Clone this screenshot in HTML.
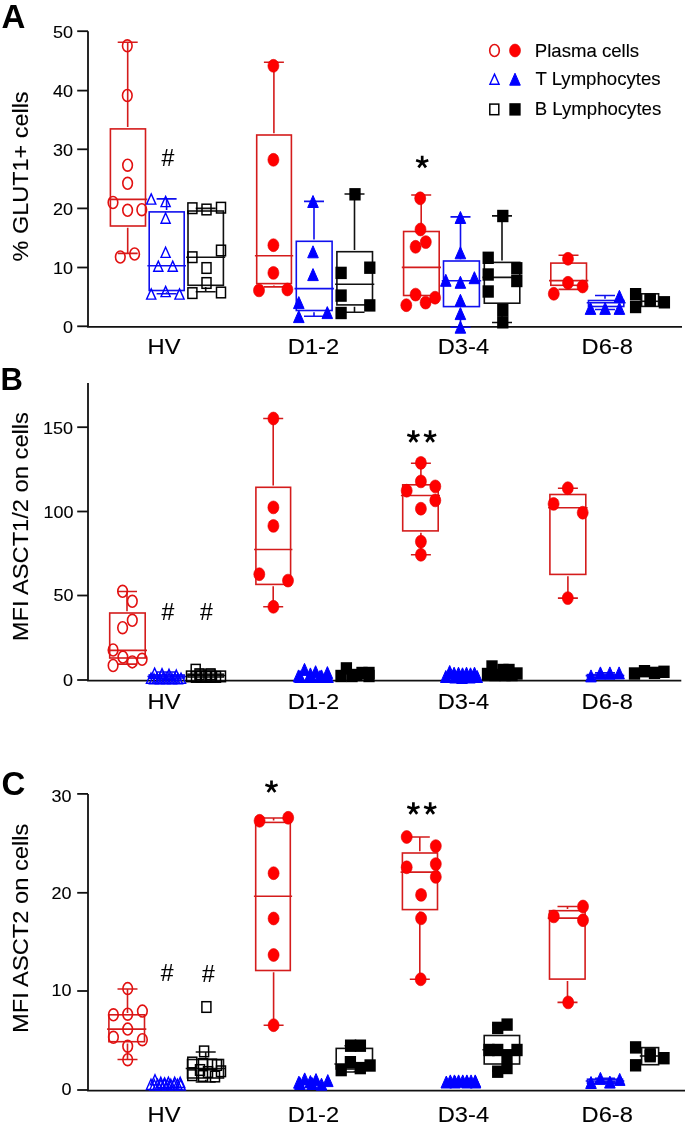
<!DOCTYPE html>
<html><head><meta charset="utf-8"><style>
html,body{margin:0;padding:0;background:#fff;}
body{width:685px;height:1129px;overflow:hidden;}
svg{display:block;will-change:transform;}
text{font-family:"Liberation Sans",sans-serif;fill:#000;stroke:#000;stroke-width:0.12px;}
.pl{stroke-width:0;}
.tk{font-size:18px;text-anchor:end;}
.cat{font-size:23.7px;text-anchor:middle;}
.yl{font-size:23.7px;text-anchor:middle;}
.pl{font-size:33px;font-weight:bold;}
.lg{font-size:18.6px;}
.hs{font-size:23px;text-anchor:middle;}
</style></head><body>
<svg width="685" height="1129" viewBox="0 0 685 1129">
<rect width="685" height="1129" fill="#fff"/>
<text class="pl" x="1.5" y="27.7">A</text>
<g stroke="#111" stroke-width="1.8" fill="none"><path d="M88 31.2V326.90000000000003M87.1 326.90000000000003H682"/>
<path d="M77.2 31.2H88"/>
<path d="M77.2 90.6H88"/>
<path d="M77.2 149.3H88"/>
<path d="M77.2 208.4H88"/>
<path d="M77.2 267.5H88"/>
<path d="M77.2 326.3H88"/>
</g>
<text class="tk" transform="translate(73.0,38.05) scale(1,0.95)">50</text>
<text class="tk" transform="translate(73.0,97.45) scale(1,0.95)">40</text>
<text class="tk" transform="translate(73.0,156.15) scale(1,0.95)">30</text>
<text class="tk" transform="translate(73.0,215.25) scale(1,0.95)">20</text>
<text class="tk" transform="translate(73.0,274.35) scale(1,0.95)">10</text>
<text class="tk" transform="translate(73.0,333.15) scale(1,0.95)">0</text>
<text class="yl" style="font-size:23.45px" transform="translate(28,176.4) rotate(-90) scale(1,0.96)">% GLUT1+ cells</text>
<text class="cat" transform="translate(164,354.2) scale(1,0.95)">HV</text>
<text class="cat" transform="translate(313.5,354.2) scale(1,0.95)">D1-2</text>
<text class="cat" transform="translate(463.4,354.2) scale(1,0.95)">D3-4</text>
<text class="cat" transform="translate(607.2,354.2) scale(1,0.95)">D6-8</text>
<ellipse cx="494.5" cy="50.5" rx="4.8" ry="5.95" fill="none" stroke="#e21010" stroke-width="1.6"/>
<ellipse cx="515" cy="50.5" rx="5.5" ry="6.45" fill="#ff0000" stroke="#e00000" stroke-width="0.6"/>
<path d="M494.50 74.10L499.10 84.30L489.90 84.30Z" fill="none" stroke="#0000ff" stroke-width="1.4" stroke-linejoin="miter"/>
<path d="M515.00 73.20L520.30 85.20L509.70 85.20Z" fill="#0000ff" stroke="#0000ff" stroke-width="1" stroke-linejoin="round"/>
<rect x="489.80" y="104.10" width="9.0" height="10.6" fill="none" stroke="#000000" stroke-width="1.5"/>
<rect x="509.35" y="103.20" width="11.3" height="12.4" fill="#000000"/>
<text class="lg" x="534.8" y="57.4">Plasma cells</text>
<text class="lg" x="535.5" y="84.6">T Lymphocytes</text>
<text class="lg" x="534.8" y="114.7">B Lymphocytes</text>
<g stroke="#d41c1c" stroke-width="1.6" fill="none">
<rect x="110.4" y="128.9" width="35.10" height="97.10"/>
<path d="M108.60 199.4H147.30M127.7 42.2V127.10M127.7 227.80V253.4M117.70 42.2H137.70M117.70 253.4H137.70"/>
</g>
<ellipse cx="127.3" cy="45.8" rx="4.8" ry="5.95" fill="none" stroke="#e21010" stroke-width="1.6"/>
<ellipse cx="127.3" cy="95.5" rx="4.8" ry="5.95" fill="none" stroke="#e21010" stroke-width="1.6"/>
<ellipse cx="127.6" cy="165.2" rx="4.8" ry="5.95" fill="none" stroke="#e21010" stroke-width="1.6"/>
<ellipse cx="127.6" cy="183.3" rx="4.8" ry="5.95" fill="none" stroke="#e21010" stroke-width="1.6"/>
<ellipse cx="113" cy="202.5" rx="4.8" ry="5.95" fill="none" stroke="#e21010" stroke-width="1.6"/>
<ellipse cx="127.6" cy="210.3" rx="4.8" ry="5.95" fill="none" stroke="#e21010" stroke-width="1.6"/>
<ellipse cx="141.8" cy="209.7" rx="4.8" ry="5.95" fill="none" stroke="#e21010" stroke-width="1.6"/>
<ellipse cx="120.3" cy="257" rx="4.8" ry="5.95" fill="none" stroke="#e21010" stroke-width="1.6"/>
<ellipse cx="134.6" cy="254" rx="4.8" ry="5.95" fill="none" stroke="#e21010" stroke-width="1.6"/>
<g stroke="#1010ee" stroke-width="1.6" fill="none">
<rect x="149.2" y="211.9" width="35.00" height="78.60"/>
<path d="M147.40 265.8H186.00M166.6 198.9V210.10M166.6 292.30V293.8M156.60 198.9H176.60M156.60 293.8H176.60"/>
</g>
<path d="M151.20 193.90L155.80 204.10L146.60 204.10Z" fill="none" stroke="#0000ff" stroke-width="1.4" stroke-linejoin="miter"/>
<path d="M165.60 196.40L170.20 206.60L161.00 206.60Z" fill="none" stroke="#0000ff" stroke-width="1.4" stroke-linejoin="miter"/>
<path d="M165.60 213.00L170.20 223.20L161.00 223.20Z" fill="none" stroke="#0000ff" stroke-width="1.4" stroke-linejoin="miter"/>
<path d="M165.60 247.20L170.20 257.40L161.00 257.40Z" fill="none" stroke="#0000ff" stroke-width="1.4" stroke-linejoin="miter"/>
<path d="M158.30 261.10L162.90 271.30L153.70 271.30Z" fill="none" stroke="#0000ff" stroke-width="1.4" stroke-linejoin="miter"/>
<path d="M172.70 261.10L177.30 271.30L168.10 271.30Z" fill="none" stroke="#0000ff" stroke-width="1.4" stroke-linejoin="miter"/>
<path d="M151.20 288.90L155.80 299.10L146.60 299.10Z" fill="none" stroke="#0000ff" stroke-width="1.4" stroke-linejoin="miter"/>
<path d="M165.60 286.40L170.20 296.60L161.00 296.60Z" fill="none" stroke="#0000ff" stroke-width="1.4" stroke-linejoin="miter"/>
<path d="M179.50 288.90L184.10 299.10L174.90 299.10Z" fill="none" stroke="#0000ff" stroke-width="1.4" stroke-linejoin="miter"/>
<g stroke="#111111" stroke-width="1.6" fill="none">
<rect x="188" y="211" width="35.40" height="74.30"/>
<path d="M186.20 257.3H225.20M205.7 208.4V209.20M205.7 287.10V291.8M195.70 208.4H215.70M195.70 291.8H215.70"/>
</g>
<rect x="187.90" y="202.90" width="9.0" height="10.6" fill="none" stroke="#000000" stroke-width="1.5"/>
<rect x="202.00" y="204.20" width="9.0" height="10.6" fill="none" stroke="#000000" stroke-width="1.5"/>
<rect x="216.50" y="202.40" width="9.0" height="10.6" fill="none" stroke="#000000" stroke-width="1.5"/>
<rect x="216.50" y="245.20" width="9.0" height="10.6" fill="none" stroke="#000000" stroke-width="1.5"/>
<rect x="187.90" y="251.90" width="9.0" height="10.6" fill="none" stroke="#000000" stroke-width="1.5"/>
<rect x="202.00" y="262.70" width="9.0" height="10.6" fill="none" stroke="#000000" stroke-width="1.5"/>
<rect x="202.00" y="277.70" width="9.0" height="10.6" fill="none" stroke="#000000" stroke-width="1.5"/>
<rect x="187.90" y="287.80" width="9.0" height="10.6" fill="none" stroke="#000000" stroke-width="1.5"/>
<rect x="216.50" y="287.20" width="9.0" height="10.6" fill="none" stroke="#000000" stroke-width="1.5"/>
<text class="hs" x="168" y="166.3">#</text>
<g stroke="#d41c1c" stroke-width="1.6" fill="none">
<rect x="256.7" y="135" width="34.70" height="148.60"/>
<path d="M254.90 255.7H293.20M273.9 62.3V133.20M273.9 285.40V286.9M263.90 62.3H283.90M263.90 286.9H283.90"/>
</g>
<ellipse cx="273.4" cy="65.8" rx="5.5" ry="6.45" fill="#ff0000" stroke="#e00000" stroke-width="0.6"/>
<ellipse cx="273.4" cy="159.8" rx="5.5" ry="6.45" fill="#ff0000" stroke="#e00000" stroke-width="0.6"/>
<ellipse cx="273.4" cy="245.2" rx="5.5" ry="6.45" fill="#ff0000" stroke="#e00000" stroke-width="0.6"/>
<ellipse cx="273.4" cy="272.9" rx="5.5" ry="6.45" fill="#ff0000" stroke="#e00000" stroke-width="0.6"/>
<ellipse cx="259" cy="290.4" rx="5.5" ry="6.45" fill="#ff0000" stroke="#e00000" stroke-width="0.6"/>
<ellipse cx="287.4" cy="289.5" rx="5.5" ry="6.45" fill="#ff0000" stroke="#e00000" stroke-width="0.6"/>
<g stroke="#1010ee" stroke-width="1.6" fill="none">
<rect x="296.3" y="241.3" width="35.80" height="69.20"/>
<path d="M294.50 288.6H333.90M314 201.4V239.50M314 312.30V316.3M304.00 201.4H324.00M304.00 316.3H324.00"/>
</g>
<path d="M313.00 195.50L318.30 207.50L307.70 207.50Z" fill="#0000ff" stroke="#0000ff" stroke-width="1" stroke-linejoin="round"/>
<path d="M313.00 245.80L318.30 257.80L307.70 257.80Z" fill="#0000ff" stroke="#0000ff" stroke-width="1" stroke-linejoin="round"/>
<path d="M313.00 268.60L318.30 280.60L307.70 280.60Z" fill="#0000ff" stroke="#0000ff" stroke-width="1" stroke-linejoin="round"/>
<path d="M298.80 296.60L304.10 308.60L293.50 308.60Z" fill="#0000ff" stroke="#0000ff" stroke-width="1" stroke-linejoin="round"/>
<path d="M298.80 310.60L304.10 322.60L293.50 322.60Z" fill="#0000ff" stroke="#0000ff" stroke-width="1" stroke-linejoin="round"/>
<path d="M327.30 306.60L332.60 318.60L322.00 318.60Z" fill="#0000ff" stroke="#0000ff" stroke-width="1" stroke-linejoin="round"/>
<g stroke="#111111" stroke-width="1.6" fill="none">
<rect x="336.9" y="251.7" width="35.60" height="53.20"/>
<path d="M335.10 284.3H374.30M354.5 194V249.90M354.5 306.70V312.2M344.50 194H364.50M344.50 312.2H364.50"/>
</g>
<rect x="349.35" y="188.10" width="11.3" height="12.4" fill="#000000"/>
<rect x="335.45" y="266.70" width="11.3" height="12.4" fill="#000000"/>
<rect x="364.15" y="261.50" width="11.3" height="12.4" fill="#000000"/>
<rect x="335.45" y="289.40" width="11.3" height="12.4" fill="#000000"/>
<rect x="364.15" y="299.20" width="11.3" height="12.4" fill="#000000"/>
<rect x="335.45" y="306.80" width="11.3" height="12.4" fill="#000000"/>
<path d="M422.20 162.20L422.20 155.80M422.20 162.20L428.29 160.22M422.20 162.20L425.96 167.38M422.20 162.20L418.44 167.38M422.20 162.20L416.11 160.22" stroke="#000" stroke-width="2.7" fill="none"/>
<g stroke="#d41c1c" stroke-width="1.6" fill="none">
<rect x="403.6" y="231.5" width="35.60" height="64.00"/>
<path d="M401.80 267.4H441.00M421.2 195V229.70M411.20 195H431.20"/>
</g>
<ellipse cx="420.2" cy="198.3" rx="5.5" ry="6.45" fill="#ff0000" stroke="#e00000" stroke-width="0.6"/>
<ellipse cx="420.5" cy="229.5" rx="5.5" ry="6.45" fill="#ff0000" stroke="#e00000" stroke-width="0.6"/>
<ellipse cx="425.8" cy="242.1" rx="5.5" ry="6.45" fill="#ff0000" stroke="#e00000" stroke-width="0.6"/>
<ellipse cx="415.6" cy="246.8" rx="5.5" ry="6.45" fill="#ff0000" stroke="#e00000" stroke-width="0.6"/>
<ellipse cx="415.6" cy="294.6" rx="5.5" ry="6.45" fill="#ff0000" stroke="#e00000" stroke-width="0.6"/>
<ellipse cx="406.3" cy="305.2" rx="5.5" ry="6.45" fill="#ff0000" stroke="#e00000" stroke-width="0.6"/>
<ellipse cx="425.6" cy="302.6" rx="5.5" ry="6.45" fill="#ff0000" stroke="#e00000" stroke-width="0.6"/>
<ellipse cx="435.1" cy="297.7" rx="5.5" ry="6.45" fill="#ff0000" stroke="#e00000" stroke-width="0.6"/>
<g stroke="#1010ee" stroke-width="1.6" fill="none">
<rect x="443.5" y="261" width="35.90" height="45.60"/>
<path d="M441.70 280.7H481.20M460.5 216.9V259.20M460.5 308.40V327.2M450.50 216.9H470.50M450.50 327.2H470.50"/>
</g>
<path d="M460.40 211.50L465.70 223.50L455.10 223.50Z" fill="#0000ff" stroke="#0000ff" stroke-width="1" stroke-linejoin="round"/>
<path d="M460.40 246.80L465.70 258.80L455.10 258.80Z" fill="#0000ff" stroke="#0000ff" stroke-width="1" stroke-linejoin="round"/>
<path d="M445.80 274.30L451.10 286.30L440.50 286.30Z" fill="#0000ff" stroke="#0000ff" stroke-width="1" stroke-linejoin="round"/>
<path d="M460.40 276.30L465.70 288.30L455.10 288.30Z" fill="#0000ff" stroke="#0000ff" stroke-width="1" stroke-linejoin="round"/>
<path d="M474.40 271.70L479.70 283.70L469.10 283.70Z" fill="#0000ff" stroke="#0000ff" stroke-width="1" stroke-linejoin="round"/>
<path d="M460.40 294.30L465.70 306.30L455.10 306.30Z" fill="#0000ff" stroke="#0000ff" stroke-width="1" stroke-linejoin="round"/>
<path d="M460.40 307.60L465.70 319.60L455.10 319.60Z" fill="#0000ff" stroke="#0000ff" stroke-width="1" stroke-linejoin="round"/>
<path d="M460.40 321.20L465.70 333.20L455.10 333.20Z" fill="#0000ff" stroke="#0000ff" stroke-width="1" stroke-linejoin="round"/>
<g stroke="#111111" stroke-width="1.6" fill="none">
<rect x="484.3" y="262.4" width="35.50" height="40.80"/>
<path d="M482.50 277.4H521.60M502 215.9V260.60M502 305.00V322.5M492.00 215.9H512.00M492.00 322.5H512.00"/>
</g>
<rect x="497.15" y="209.80" width="11.3" height="12.4" fill="#000000"/>
<rect x="482.55" y="251.60" width="11.3" height="12.4" fill="#000000"/>
<rect x="482.55" y="268.30" width="11.3" height="12.4" fill="#000000"/>
<rect x="482.55" y="285.30" width="11.3" height="12.4" fill="#000000"/>
<rect x="511.15" y="262.10" width="11.3" height="12.4" fill="#000000"/>
<rect x="511.15" y="274.80" width="11.3" height="12.4" fill="#000000"/>
<rect x="497.15" y="303.80" width="11.3" height="12.4" fill="#000000"/>
<rect x="497.15" y="316.10" width="11.3" height="12.4" fill="#000000"/>
<g stroke="#d41c1c" stroke-width="1.6" fill="none">
<rect x="550.8" y="263.1" width="35.70" height="22.20"/>
<path d="M549.00 280.6H588.30M568.5 255.3V261.30M568.5 287.10V289.4M558.50 255.3H578.50M558.50 289.4H578.50"/>
</g>
<ellipse cx="568" cy="258.8" rx="5.5" ry="6.45" fill="#ff0000" stroke="#e00000" stroke-width="0.6"/>
<ellipse cx="568" cy="282.8" rx="5.5" ry="6.45" fill="#ff0000" stroke="#e00000" stroke-width="0.6"/>
<ellipse cx="582.6" cy="286.5" rx="5.5" ry="6.45" fill="#ff0000" stroke="#e00000" stroke-width="0.6"/>
<ellipse cx="553.8" cy="293.8" rx="5.5" ry="6.45" fill="#ff0000" stroke="#e00000" stroke-width="0.6"/>
<g stroke="#1010ee" stroke-width="1.6" fill="none">
<rect x="588.5" y="300.5" width="35.30" height="6.00"/>
<path d="M586.70 302.8H625.60M605 295.5V298.70M605 308.30V309.5M595.00 295.5H615.00M595.00 309.5H615.00"/>
</g>
<path d="M590.50 302.40L595.80 314.40L585.20 314.40Z" fill="#0000ff" stroke="#0000ff" stroke-width="1" stroke-linejoin="round"/>
<path d="M605.10 302.40L610.40 314.40L599.80 314.40Z" fill="#0000ff" stroke="#0000ff" stroke-width="1" stroke-linejoin="round"/>
<path d="M619.40 302.40L624.70 314.40L614.10 314.40Z" fill="#0000ff" stroke="#0000ff" stroke-width="1" stroke-linejoin="round"/>
<path d="M619.40 290.30L624.70 302.30L614.10 302.30Z" fill="#0000ff" stroke="#0000ff" stroke-width="1" stroke-linejoin="round"/>
<g stroke="#111111" stroke-width="1.6" fill="none">
<rect x="641.6" y="293.8" width="17.00" height="12.60"/>
<path d="M639.80 301.3H660.40M650.00 293.8H650.00M650.00 306.4H650.00"/>
</g>
<rect x="629.95" y="288.00" width="11.3" height="12.4" fill="#000000"/>
<rect x="629.95" y="300.80" width="11.3" height="12.4" fill="#000000"/>
<rect x="644.55" y="293.40" width="11.3" height="12.4" fill="#000000"/>
<rect x="644.55" y="294.40" width="11.3" height="12.4" fill="#000000"/>
<rect x="658.75" y="296.10" width="11.3" height="12.4" fill="#000000"/>
<text class="pl" x="0.4" y="389.9" style="font-size:31px">B</text>
<g stroke="#111" stroke-width="1.8" fill="none"><path d="M88 383.1V680.6M87.1 680.6H681.3"/>
<path d="M77.2 427.2H88"/>
<path d="M77.2 511.5H88"/>
<path d="M77.2 595.5H88"/>
<path d="M77.2 680.0H88"/>
</g>
<text class="tk" transform="translate(73.0,434.45) scale(1,0.95)">150</text>
<text class="tk" transform="translate(73.5,518.05) scale(1,0.95)">100</text>
<text class="tk" transform="translate(73.5,600.55) scale(1,0.95)">50</text>
<text class="tk" transform="translate(73.0,685.85) scale(1,0.95)">0</text>
<text class="yl" transform="translate(28,526.6) rotate(-90) scale(1,0.96)">MFI ASCT1/2 on cells</text>
<text class="cat" transform="translate(164,709.4) scale(1,0.95)">HV</text>
<text class="cat" transform="translate(313.5,709.4) scale(1,0.95)">D1-2</text>
<text class="cat" transform="translate(463.4,709.4) scale(1,0.95)">D3-4</text>
<text class="cat" transform="translate(607.2,709.4) scale(1,0.95)">D6-8</text>
<g stroke="#d41c1c" stroke-width="1.6" fill="none">
<rect x="109.7" y="613" width="35.50" height="45.00"/>
<path d="M107.90 650.4H147.00M127 591.5V611.20M127 659.80V664.1M117.00 591.5H137.00M117.00 664.1H137.00"/>
</g>
<ellipse cx="122.6" cy="591.3" rx="4.8" ry="5.95" fill="none" stroke="#e21010" stroke-width="1.6"/>
<ellipse cx="132.3" cy="601.3" rx="4.8" ry="5.95" fill="none" stroke="#e21010" stroke-width="1.6"/>
<ellipse cx="132.3" cy="620.3" rx="4.8" ry="5.95" fill="none" stroke="#e21010" stroke-width="1.6"/>
<ellipse cx="122.6" cy="627.7" rx="4.8" ry="5.95" fill="none" stroke="#e21010" stroke-width="1.6"/>
<ellipse cx="113.1" cy="650" rx="4.8" ry="5.95" fill="none" stroke="#e21010" stroke-width="1.6"/>
<ellipse cx="122.9" cy="657.1" rx="4.8" ry="5.95" fill="none" stroke="#e21010" stroke-width="1.6"/>
<ellipse cx="132.3" cy="661.9" rx="4.8" ry="5.95" fill="none" stroke="#e21010" stroke-width="1.6"/>
<ellipse cx="142.1" cy="659.3" rx="4.8" ry="5.95" fill="none" stroke="#e21010" stroke-width="1.6"/>
<ellipse cx="113.1" cy="665.5" rx="4.8" ry="5.95" fill="none" stroke="#e21010" stroke-width="1.6"/>
<text class="hs" x="168" y="620.4">#</text>
<text class="hs" x="206.4" y="620.4">#</text>
<g stroke="#1010ee" stroke-width="1.6" fill="none">
<rect x="149.2" y="675" width="35.00" height="3.00"/>
<path d="M147.40 676.5H186.00M166.6 672V673.20M166.6 679.80V680M156.60 672H176.60M156.60 680H176.60"/>
</g>
<path d="M154.60 668.10L159.20 678.30L150.00 678.30Z" fill="none" stroke="#0000ff" stroke-width="1.4" stroke-linejoin="miter"/>
<path d="M162.00 668.60L166.60 678.80L157.40 678.80Z" fill="none" stroke="#0000ff" stroke-width="1.4" stroke-linejoin="miter"/>
<path d="M169.00 669.30L173.60 679.50L164.40 679.50Z" fill="none" stroke="#0000ff" stroke-width="1.4" stroke-linejoin="miter"/>
<path d="M176.30 670.00L180.90 680.20L171.70 680.20Z" fill="none" stroke="#0000ff" stroke-width="1.4" stroke-linejoin="miter"/>
<path d="M151.00 673.10L155.60 683.30L146.40 683.30Z" fill="none" stroke="#0000ff" stroke-width="1.4" stroke-linejoin="miter"/>
<path d="M154.00 673.70L158.60 683.90L149.40 683.90Z" fill="none" stroke="#0000ff" stroke-width="1.4" stroke-linejoin="miter"/>
<path d="M157.00 673.10L161.60 683.30L152.40 683.30Z" fill="none" stroke="#0000ff" stroke-width="1.4" stroke-linejoin="miter"/>
<path d="M160.00 673.70L164.60 683.90L155.40 683.90Z" fill="none" stroke="#0000ff" stroke-width="1.4" stroke-linejoin="miter"/>
<path d="M163.00 673.10L167.60 683.30L158.40 683.30Z" fill="none" stroke="#0000ff" stroke-width="1.4" stroke-linejoin="miter"/>
<path d="M166.00 673.70L170.60 683.90L161.40 683.90Z" fill="none" stroke="#0000ff" stroke-width="1.4" stroke-linejoin="miter"/>
<path d="M169.00 673.10L173.60 683.30L164.40 683.30Z" fill="none" stroke="#0000ff" stroke-width="1.4" stroke-linejoin="miter"/>
<path d="M172.00 673.70L176.60 683.90L167.40 683.90Z" fill="none" stroke="#0000ff" stroke-width="1.4" stroke-linejoin="miter"/>
<path d="M175.00 673.10L179.60 683.30L170.40 683.30Z" fill="none" stroke="#0000ff" stroke-width="1.4" stroke-linejoin="miter"/>
<path d="M178.00 673.70L182.60 683.90L173.40 683.90Z" fill="none" stroke="#0000ff" stroke-width="1.4" stroke-linejoin="miter"/>
<path d="M181.00 673.10L185.60 683.30L176.40 683.30Z" fill="none" stroke="#0000ff" stroke-width="1.4" stroke-linejoin="miter"/>
<g stroke="#111111" stroke-width="1.6" fill="none">
<rect x="188" y="674.2" width="35.40" height="2.80"/>
<path d="M186.20 675.5H225.20M205.7 670V672.40M205.7 678.80V682M195.70 670H215.70M195.70 682H215.70"/>
</g>
<rect x="191.20" y="664.40" width="9.0" height="10.6" fill="none" stroke="#000000" stroke-width="1.5"/>
<rect x="195.00" y="668.90" width="9.0" height="10.6" fill="none" stroke="#000000" stroke-width="1.5"/>
<rect x="206.00" y="668.90" width="9.0" height="10.6" fill="none" stroke="#000000" stroke-width="1.5"/>
<rect x="186.50" y="671.10" width="9.0" height="10.6" fill="none" stroke="#000000" stroke-width="1.5"/>
<rect x="191.50" y="671.60" width="9.0" height="10.6" fill="none" stroke="#000000" stroke-width="1.5"/>
<rect x="196.50" y="671.10" width="9.0" height="10.6" fill="none" stroke="#000000" stroke-width="1.5"/>
<rect x="201.50" y="671.60" width="9.0" height="10.6" fill="none" stroke="#000000" stroke-width="1.5"/>
<rect x="206.50" y="671.10" width="9.0" height="10.6" fill="none" stroke="#000000" stroke-width="1.5"/>
<rect x="211.50" y="671.60" width="9.0" height="10.6" fill="none" stroke="#000000" stroke-width="1.5"/>
<rect x="216.50" y="671.10" width="9.0" height="10.6" fill="none" stroke="#000000" stroke-width="1.5"/>
<g stroke="#d41c1c" stroke-width="1.6" fill="none">
<rect x="255.9" y="487.3" width="34.70" height="97.10"/>
<path d="M254.10 549.5H292.40M273.2 418.5V485.50M273.2 586.20V606.8M263.20 418.5H283.20M263.20 606.8H283.20"/>
</g>
<ellipse cx="273.4" cy="418.5" rx="5.5" ry="6.45" fill="#ff0000" stroke="#e00000" stroke-width="0.6"/>
<ellipse cx="273.4" cy="507.4" rx="5.5" ry="6.45" fill="#ff0000" stroke="#e00000" stroke-width="0.6"/>
<ellipse cx="273.4" cy="525.9" rx="5.5" ry="6.45" fill="#ff0000" stroke="#e00000" stroke-width="0.6"/>
<ellipse cx="259.3" cy="574.2" rx="5.5" ry="6.45" fill="#ff0000" stroke="#e00000" stroke-width="0.6"/>
<ellipse cx="288" cy="580.6" rx="5.5" ry="6.45" fill="#ff0000" stroke="#e00000" stroke-width="0.6"/>
<ellipse cx="273.4" cy="606.8" rx="5.5" ry="6.45" fill="#ff0000" stroke="#e00000" stroke-width="0.6"/>
<path d="M304.50 663.40L309.80 675.40L299.20 675.40Z" fill="#0000ff" stroke="#0000ff" stroke-width="1" stroke-linejoin="round"/>
<path d="M315.60 665.70L320.90 677.70L310.30 677.70Z" fill="#0000ff" stroke="#0000ff" stroke-width="1" stroke-linejoin="round"/>
<path d="M327.40 666.60L332.70 678.60L322.10 678.60Z" fill="#0000ff" stroke="#0000ff" stroke-width="1" stroke-linejoin="round"/>
<path d="M298.50 669.90L303.80 681.90L293.20 681.90Z" fill="#0000ff" stroke="#0000ff" stroke-width="1" stroke-linejoin="round"/>
<path d="M310.40 667.90L315.70 679.90L305.10 679.90Z" fill="#0000ff" stroke="#0000ff" stroke-width="1" stroke-linejoin="round"/>
<path d="M321.50 669.90L326.80 681.90L316.20 681.90Z" fill="#0000ff" stroke="#0000ff" stroke-width="1" stroke-linejoin="round"/>
<path d="M300.00 670.50L305.30 682.50L294.70 682.50Z" fill="#0000ff" stroke="#0000ff" stroke-width="1" stroke-linejoin="round"/>
<path d="M310.00 670.50L315.30 682.50L304.70 682.50Z" fill="#0000ff" stroke="#0000ff" stroke-width="1" stroke-linejoin="round"/>
<path d="M320.00 670.50L325.30 682.50L314.70 682.50Z" fill="#0000ff" stroke="#0000ff" stroke-width="1" stroke-linejoin="round"/>
<path d="M328.00 670.50L333.30 682.50L322.70 682.50Z" fill="#0000ff" stroke="#0000ff" stroke-width="1" stroke-linejoin="round"/>
<rect x="340.75" y="662.20" width="11.3" height="12.4" fill="#000000"/>
<rect x="335.35" y="669.80" width="11.3" height="12.4" fill="#000000"/>
<rect x="346.35" y="669.80" width="11.3" height="12.4" fill="#000000"/>
<rect x="356.35" y="666.80" width="11.3" height="12.4" fill="#000000"/>
<rect x="363.35" y="666.80" width="11.3" height="12.4" fill="#000000"/>
<rect x="351.35" y="668.80" width="11.3" height="12.4" fill="#000000"/>
<rect x="363.35" y="669.80" width="11.3" height="12.4" fill="#000000"/>
<path d="M413.40 436.70L413.40 430.30M413.40 436.70L419.49 434.72M413.40 436.70L417.16 441.88M413.40 436.70L409.64 441.88M413.40 436.70L407.31 434.72" stroke="#000" stroke-width="2.7" fill="none"/>
<path d="M430.10 436.70L430.10 430.30M430.10 436.70L436.19 434.72M430.10 436.70L433.86 441.88M430.10 436.70L426.34 441.88M430.10 436.70L424.01 434.72" stroke="#000" stroke-width="2.7" fill="none"/>
<g stroke="#d41c1c" stroke-width="1.6" fill="none">
<rect x="402.7" y="484.8" width="35.50" height="46.10"/>
<path d="M400.90 495.5H440.00M420.9 463.2V483.00M420.9 532.70V554.8M410.90 463.2H430.90M410.90 554.8H430.90"/>
</g>
<ellipse cx="420.9" cy="462.9" rx="5.5" ry="6.45" fill="#ff0000" stroke="#e00000" stroke-width="0.6"/>
<ellipse cx="420.9" cy="481.4" rx="5.5" ry="6.45" fill="#ff0000" stroke="#e00000" stroke-width="0.6"/>
<ellipse cx="406.7" cy="490.7" rx="5.5" ry="6.45" fill="#ff0000" stroke="#e00000" stroke-width="0.6"/>
<ellipse cx="435.3" cy="486.4" rx="5.5" ry="6.45" fill="#ff0000" stroke="#e00000" stroke-width="0.6"/>
<ellipse cx="435.3" cy="500.4" rx="5.5" ry="6.45" fill="#ff0000" stroke="#e00000" stroke-width="0.6"/>
<ellipse cx="420.9" cy="508.7" rx="5.5" ry="6.45" fill="#ff0000" stroke="#e00000" stroke-width="0.6"/>
<ellipse cx="420.9" cy="541.6" rx="5.5" ry="6.45" fill="#ff0000" stroke="#e00000" stroke-width="0.6"/>
<ellipse cx="420.9" cy="554.8" rx="5.5" ry="6.45" fill="#ff0000" stroke="#e00000" stroke-width="0.6"/>
<path d="M449.70 665.50L455.00 677.50L444.40 677.50Z" fill="#0000ff" stroke="#0000ff" stroke-width="1" stroke-linejoin="round"/>
<path d="M454.10 667.20L459.40 679.20L448.80 679.20Z" fill="#0000ff" stroke="#0000ff" stroke-width="1" stroke-linejoin="round"/>
<path d="M458.50 667.20L463.80 679.20L453.20 679.20Z" fill="#0000ff" stroke="#0000ff" stroke-width="1" stroke-linejoin="round"/>
<path d="M462.50 667.80L467.80 679.80L457.20 679.80Z" fill="#0000ff" stroke="#0000ff" stroke-width="1" stroke-linejoin="round"/>
<path d="M466.50 667.20L471.80 679.20L461.20 679.20Z" fill="#0000ff" stroke="#0000ff" stroke-width="1" stroke-linejoin="round"/>
<path d="M470.50 667.80L475.80 679.80L465.20 679.80Z" fill="#0000ff" stroke="#0000ff" stroke-width="1" stroke-linejoin="round"/>
<path d="M474.50 667.20L479.80 679.20L469.20 679.20Z" fill="#0000ff" stroke="#0000ff" stroke-width="1" stroke-linejoin="round"/>
<path d="M445.80 670.50L451.10 682.50L440.50 682.50Z" fill="#0000ff" stroke="#0000ff" stroke-width="1" stroke-linejoin="round"/>
<path d="M477.20 670.50L482.50 682.50L471.90 682.50Z" fill="#0000ff" stroke="#0000ff" stroke-width="1" stroke-linejoin="round"/>
<path d="M455.00 671.00L460.30 683.00L449.70 683.00Z" fill="#0000ff" stroke="#0000ff" stroke-width="1" stroke-linejoin="round"/>
<path d="M462.00 671.50L467.30 683.50L456.70 683.50Z" fill="#0000ff" stroke="#0000ff" stroke-width="1" stroke-linejoin="round"/>
<path d="M470.00 671.00L475.30 683.00L464.70 683.00Z" fill="#0000ff" stroke="#0000ff" stroke-width="1" stroke-linejoin="round"/>
<rect x="486.35" y="660.30" width="11.3" height="12.4" fill="#000000"/>
<rect x="497.35" y="663.80" width="11.3" height="12.4" fill="#000000"/>
<rect x="503.35" y="663.80" width="11.3" height="12.4" fill="#000000"/>
<rect x="511.35" y="667.30" width="11.3" height="12.4" fill="#000000"/>
<rect x="481.85" y="667.80" width="11.3" height="12.4" fill="#000000"/>
<rect x="489.35" y="668.80" width="11.3" height="12.4" fill="#000000"/>
<rect x="499.35" y="668.80" width="11.3" height="12.4" fill="#000000"/>
<rect x="506.35" y="668.80" width="11.3" height="12.4" fill="#000000"/>
<g stroke="#d41c1c" stroke-width="1.6" fill="none">
<rect x="549.9" y="494.5" width="35.90" height="79.90"/>
<path d="M548.10 507.7H587.60M567.9 488.2V492.70M567.9 576.20V598.1M557.90 488.2H577.90M557.90 598.1H577.90"/>
</g>
<ellipse cx="567.8" cy="488.2" rx="5.5" ry="6.45" fill="#ff0000" stroke="#e00000" stroke-width="0.6"/>
<ellipse cx="553.6" cy="503.9" rx="5.5" ry="6.45" fill="#ff0000" stroke="#e00000" stroke-width="0.6"/>
<ellipse cx="582.7" cy="512.7" rx="5.5" ry="6.45" fill="#ff0000" stroke="#e00000" stroke-width="0.6"/>
<ellipse cx="567.8" cy="598.1" rx="5.5" ry="6.45" fill="#ff0000" stroke="#e00000" stroke-width="0.6"/>
<g stroke="#1010ee" stroke-width="1.6" fill="none">
<rect x="587.5" y="674.6" width="35.00" height="2.60"/>
<path d="M585.70 675.6H624.30M595.00 672.9H615.00M595.00 679H615.00"/>
</g>
<path d="M591.00 669.90L596.30 681.90L585.70 681.90Z" fill="#0000ff" stroke="#0000ff" stroke-width="1" stroke-linejoin="round"/>
<path d="M600.40 666.90L605.70 678.90L595.10 678.90Z" fill="#0000ff" stroke="#0000ff" stroke-width="1" stroke-linejoin="round"/>
<path d="M609.90 666.90L615.20 678.90L604.60 678.90Z" fill="#0000ff" stroke="#0000ff" stroke-width="1" stroke-linejoin="round"/>
<path d="M619.10 666.90L624.40 678.90L613.80 678.90Z" fill="#0000ff" stroke="#0000ff" stroke-width="1" stroke-linejoin="round"/>
<rect x="628.85" y="667.30" width="11.3" height="12.4" fill="#000000"/>
<rect x="638.85" y="665.00" width="11.3" height="12.4" fill="#000000"/>
<rect x="648.85" y="666.70" width="11.3" height="12.4" fill="#000000"/>
<rect x="658.35" y="665.60" width="11.3" height="12.4" fill="#000000"/>
<text class="pl" x="1.5" y="795">C</text>
<g stroke="#111" stroke-width="1.8" fill="none"><path d="M88 793.9V1090.6M87.1 1090.6H685"/>
<path d="M77.2 793.9H88"/>
<path d="M77.2 892.8H88"/>
<path d="M77.2 991H88"/>
<path d="M77.2 1090.0H88"/>
</g>
<text class="tk" transform="translate(71.6,802.35) scale(1,0.95)">30</text>
<text class="tk" transform="translate(71.6,898.85) scale(1,0.95)">20</text>
<text class="tk" transform="translate(71.6,995.75) scale(1,0.95)">10</text>
<text class="tk" transform="translate(71.6,1095.05) scale(1,0.95)">0</text>
<text class="yl" transform="translate(28,928.3) rotate(-90) scale(1,0.96)">MFI ASCT2 on cells</text>
<text class="cat" transform="translate(164,1121.7) scale(1,0.95)">HV</text>
<text class="cat" transform="translate(313.5,1121.7) scale(1,0.95)">D1-2</text>
<text class="cat" transform="translate(463.4,1121.7) scale(1,0.95)">D3-4</text>
<text class="cat" transform="translate(607.2,1121.7) scale(1,0.95)">D6-8</text>
<g stroke="#d41c1c" stroke-width="1.6" fill="none">
<rect x="108.9" y="1014.8" width="35.60" height="26.90"/>
<path d="M107.10 1029.1H146.30M127.5 989V1013.00M127.5 1043.50V1059.5M117.50 989H137.50M117.50 1059.5H137.50"/>
</g>
<ellipse cx="127.7" cy="988.6" rx="4.8" ry="5.95" fill="none" stroke="#e21010" stroke-width="1.6"/>
<ellipse cx="113.4" cy="1014.8" rx="4.8" ry="5.95" fill="none" stroke="#e21010" stroke-width="1.6"/>
<ellipse cx="127.7" cy="1014.2" rx="4.8" ry="5.95" fill="none" stroke="#e21010" stroke-width="1.6"/>
<ellipse cx="142.4" cy="1011.1" rx="4.8" ry="5.95" fill="none" stroke="#e21010" stroke-width="1.6"/>
<ellipse cx="127.7" cy="1029.1" rx="4.8" ry="5.95" fill="none" stroke="#e21010" stroke-width="1.6"/>
<ellipse cx="113.4" cy="1037.3" rx="4.8" ry="5.95" fill="none" stroke="#e21010" stroke-width="1.6"/>
<ellipse cx="142.4" cy="1039.7" rx="4.8" ry="5.95" fill="none" stroke="#e21010" stroke-width="1.6"/>
<ellipse cx="127.7" cy="1046.2" rx="4.8" ry="5.95" fill="none" stroke="#e21010" stroke-width="1.6"/>
<ellipse cx="127.7" cy="1059.7" rx="4.8" ry="5.95" fill="none" stroke="#e21010" stroke-width="1.6"/>
<text class="hs" x="167.2" y="980.6">#</text>
<text class="hs" x="208.4" y="981.5">#</text>
<path d="M155.00 1074.70L159.60 1084.90L150.40 1084.90Z" fill="none" stroke="#0000ff" stroke-width="1.4" stroke-linejoin="miter"/>
<path d="M160.80 1077.30L165.40 1087.50L156.20 1087.50Z" fill="none" stroke="#0000ff" stroke-width="1.4" stroke-linejoin="miter"/>
<path d="M164.60 1077.90L169.20 1088.10L160.00 1088.10Z" fill="none" stroke="#0000ff" stroke-width="1.4" stroke-linejoin="miter"/>
<path d="M168.40 1077.30L173.00 1087.50L163.80 1087.50Z" fill="none" stroke="#0000ff" stroke-width="1.4" stroke-linejoin="miter"/>
<path d="M174.70 1077.30L179.30 1087.50L170.10 1087.50Z" fill="none" stroke="#0000ff" stroke-width="1.4" stroke-linejoin="miter"/>
<path d="M180.20 1077.30L184.80 1087.50L175.60 1087.50Z" fill="none" stroke="#0000ff" stroke-width="1.4" stroke-linejoin="miter"/>
<path d="M151.00 1079.30L155.60 1089.50L146.40 1089.50Z" fill="none" stroke="#0000ff" stroke-width="1.4" stroke-linejoin="miter"/>
<path d="M154.30 1079.80L158.90 1090.00L149.70 1090.00Z" fill="none" stroke="#0000ff" stroke-width="1.4" stroke-linejoin="miter"/>
<path d="M157.60 1079.30L162.20 1089.50L153.00 1089.50Z" fill="none" stroke="#0000ff" stroke-width="1.4" stroke-linejoin="miter"/>
<path d="M160.90 1079.80L165.50 1090.00L156.30 1090.00Z" fill="none" stroke="#0000ff" stroke-width="1.4" stroke-linejoin="miter"/>
<path d="M164.20 1079.30L168.80 1089.50L159.60 1089.50Z" fill="none" stroke="#0000ff" stroke-width="1.4" stroke-linejoin="miter"/>
<path d="M167.50 1079.80L172.10 1090.00L162.90 1090.00Z" fill="none" stroke="#0000ff" stroke-width="1.4" stroke-linejoin="miter"/>
<path d="M170.80 1079.30L175.40 1089.50L166.20 1089.50Z" fill="none" stroke="#0000ff" stroke-width="1.4" stroke-linejoin="miter"/>
<path d="M174.10 1079.80L178.70 1090.00L169.50 1090.00Z" fill="none" stroke="#0000ff" stroke-width="1.4" stroke-linejoin="miter"/>
<path d="M177.40 1079.30L182.00 1089.50L172.80 1089.50Z" fill="none" stroke="#0000ff" stroke-width="1.4" stroke-linejoin="miter"/>
<path d="M180.70 1079.80L185.30 1090.00L176.10 1090.00Z" fill="none" stroke="#0000ff" stroke-width="1.4" stroke-linejoin="miter"/>
<g stroke="#111111" stroke-width="1.6" fill="none">
<rect x="187.5" y="1059.5" width="36.00" height="18.50"/>
<path d="M185.70 1068.5H225.30M205.7 1052V1057.70M205.7 1079.80V1082M195.70 1052H215.70M195.70 1082H215.70"/>
</g>
<rect x="201.90" y="1001.70" width="9.0" height="10.6" fill="none" stroke="#000000" stroke-width="1.5"/>
<rect x="199.60" y="1046.10" width="9.0" height="10.6" fill="none" stroke="#000000" stroke-width="1.5"/>
<rect x="187.80" y="1057.20" width="9.0" height="10.6" fill="none" stroke="#000000" stroke-width="1.5"/>
<rect x="187.80" y="1069.90" width="9.0" height="10.6" fill="none" stroke="#000000" stroke-width="1.5"/>
<rect x="198.50" y="1058.70" width="9.0" height="10.6" fill="none" stroke="#000000" stroke-width="1.5"/>
<rect x="198.50" y="1070.70" width="9.0" height="10.6" fill="none" stroke="#000000" stroke-width="1.5"/>
<rect x="207.50" y="1059.20" width="9.0" height="10.6" fill="none" stroke="#000000" stroke-width="1.5"/>
<rect x="212.50" y="1059.70" width="9.0" height="10.6" fill="none" stroke="#000000" stroke-width="1.5"/>
<rect x="216.50" y="1066.00" width="9.0" height="10.6" fill="none" stroke="#000000" stroke-width="1.5"/>
<rect x="210.50" y="1071.20" width="9.0" height="10.6" fill="none" stroke="#000000" stroke-width="1.5"/>
<rect x="203.50" y="1066.70" width="9.0" height="10.6" fill="none" stroke="#000000" stroke-width="1.5"/>
<rect x="195.50" y="1064.70" width="9.0" height="10.6" fill="none" stroke="#000000" stroke-width="1.5"/>
<path d="M271.50 786.80L271.50 780.40M271.50 786.80L277.59 784.82M271.50 786.80L275.26 791.98M271.50 786.80L267.74 791.98M271.50 786.80L265.41 784.82" stroke="#000" stroke-width="2.7" fill="none"/>
<g stroke="#d41c1c" stroke-width="1.6" fill="none">
<rect x="255.7" y="822.4" width="34.60" height="148.10"/>
<path d="M253.90 896.3H292.10M273.6 818V820.60M273.6 972.30V1025.2M263.60 818H283.60M263.60 1025.2H283.60"/>
</g>
<ellipse cx="259.6" cy="820.8" rx="5.5" ry="6.45" fill="#ff0000" stroke="#e00000" stroke-width="0.6"/>
<ellipse cx="288.2" cy="817.8" rx="5.5" ry="6.45" fill="#ff0000" stroke="#e00000" stroke-width="0.6"/>
<ellipse cx="273.6" cy="873.2" rx="5.5" ry="6.45" fill="#ff0000" stroke="#e00000" stroke-width="0.6"/>
<ellipse cx="273.6" cy="918.5" rx="5.5" ry="6.45" fill="#ff0000" stroke="#e00000" stroke-width="0.6"/>
<ellipse cx="273.6" cy="955" rx="5.5" ry="6.45" fill="#ff0000" stroke="#e00000" stroke-width="0.6"/>
<ellipse cx="273.6" cy="1025.2" rx="5.5" ry="6.45" fill="#ff0000" stroke="#e00000" stroke-width="0.6"/>
<path d="M298.90 1076.20L304.20 1088.20L293.60 1088.20Z" fill="#0000ff" stroke="#0000ff" stroke-width="1" stroke-linejoin="round"/>
<path d="M304.70 1072.90L310.00 1084.90L299.40 1084.90Z" fill="#0000ff" stroke="#0000ff" stroke-width="1" stroke-linejoin="round"/>
<path d="M310.40 1075.50L315.70 1087.50L305.10 1087.50Z" fill="#0000ff" stroke="#0000ff" stroke-width="1" stroke-linejoin="round"/>
<path d="M316.00 1073.60L321.30 1085.60L310.70 1085.60Z" fill="#0000ff" stroke="#0000ff" stroke-width="1" stroke-linejoin="round"/>
<path d="M321.50 1078.20L326.80 1090.20L316.20 1090.20Z" fill="#0000ff" stroke="#0000ff" stroke-width="1" stroke-linejoin="round"/>
<path d="M327.80 1074.60L333.10 1086.60L322.50 1086.60Z" fill="#0000ff" stroke="#0000ff" stroke-width="1" stroke-linejoin="round"/>
<path d="M300.00 1077.50L305.30 1089.50L294.70 1089.50Z" fill="#0000ff" stroke="#0000ff" stroke-width="1" stroke-linejoin="round"/>
<path d="M312.00 1077.50L317.30 1089.50L306.70 1089.50Z" fill="#0000ff" stroke="#0000ff" stroke-width="1" stroke-linejoin="round"/>
<g stroke="#111111" stroke-width="1.6" fill="none">
<rect x="336.2" y="1048.4" width="36.30" height="20.60"/>
<path d="M334.40 1064H374.30M354.5 1045.7V1046.60M354.5 1070.80V1072M344.50 1045.7H364.50M344.50 1072H364.50"/>
</g>
<rect x="344.95" y="1039.50" width="11.3" height="12.4" fill="#000000"/>
<rect x="354.75" y="1039.50" width="11.3" height="12.4" fill="#000000"/>
<rect x="335.55" y="1063.90" width="11.3" height="12.4" fill="#000000"/>
<rect x="344.75" y="1056.00" width="11.3" height="12.4" fill="#000000"/>
<rect x="354.65" y="1061.90" width="11.3" height="12.4" fill="#000000"/>
<rect x="364.45" y="1059.30" width="11.3" height="12.4" fill="#000000"/>
<path d="M413.40 808.70L413.40 802.30M413.40 808.70L419.49 806.72M413.40 808.70L417.16 813.88M413.40 808.70L409.64 813.88M413.40 808.70L407.31 806.72" stroke="#000" stroke-width="2.7" fill="none"/>
<path d="M430.20 808.70L430.20 802.30M430.20 808.70L436.29 806.72M430.20 808.70L433.96 813.88M430.20 808.70L426.44 813.88M430.20 808.70L424.11 806.72" stroke="#000" stroke-width="2.7" fill="none"/>
<g stroke="#d41c1c" stroke-width="1.6" fill="none">
<rect x="402.4" y="853" width="35.10" height="56.60"/>
<path d="M400.60 872.1H439.30M419.8 837V851.20M419.8 911.40V979.3M409.80 837H429.80M409.80 979.3H429.80"/>
</g>
<ellipse cx="406.7" cy="837" rx="5.5" ry="6.45" fill="#ff0000" stroke="#e00000" stroke-width="0.6"/>
<ellipse cx="435.8" cy="846.1" rx="5.5" ry="6.45" fill="#ff0000" stroke="#e00000" stroke-width="0.6"/>
<ellipse cx="406.7" cy="867.3" rx="5.5" ry="6.45" fill="#ff0000" stroke="#e00000" stroke-width="0.6"/>
<ellipse cx="435.8" cy="864.1" rx="5.5" ry="6.45" fill="#ff0000" stroke="#e00000" stroke-width="0.6"/>
<ellipse cx="435.8" cy="876.9" rx="5.5" ry="6.45" fill="#ff0000" stroke="#e00000" stroke-width="0.6"/>
<ellipse cx="421.1" cy="894.9" rx="5.5" ry="6.45" fill="#ff0000" stroke="#e00000" stroke-width="0.6"/>
<ellipse cx="421.1" cy="918.3" rx="5.5" ry="6.45" fill="#ff0000" stroke="#e00000" stroke-width="0.6"/>
<ellipse cx="420.7" cy="979.3" rx="5.5" ry="6.45" fill="#ff0000" stroke="#e00000" stroke-width="0.6"/>
<path d="M450.30 1074.90L455.60 1086.90L445.00 1086.90Z" fill="#0000ff" stroke="#0000ff" stroke-width="1" stroke-linejoin="round"/>
<path d="M454.45 1074.90L459.75 1086.90L449.15 1086.90Z" fill="#0000ff" stroke="#0000ff" stroke-width="1" stroke-linejoin="round"/>
<path d="M458.60 1074.90L463.90 1086.90L453.30 1086.90Z" fill="#0000ff" stroke="#0000ff" stroke-width="1" stroke-linejoin="round"/>
<path d="M462.75 1074.90L468.05 1086.90L457.45 1086.90Z" fill="#0000ff" stroke="#0000ff" stroke-width="1" stroke-linejoin="round"/>
<path d="M466.90 1074.90L472.20 1086.90L461.60 1086.90Z" fill="#0000ff" stroke="#0000ff" stroke-width="1" stroke-linejoin="round"/>
<path d="M471.05 1074.90L476.35 1086.90L465.75 1086.90Z" fill="#0000ff" stroke="#0000ff" stroke-width="1" stroke-linejoin="round"/>
<path d="M475.20 1074.90L480.50 1086.90L469.90 1086.90Z" fill="#0000ff" stroke="#0000ff" stroke-width="1" stroke-linejoin="round"/>
<path d="M446.30 1076.00L451.60 1088.00L441.00 1088.00Z" fill="#0000ff" stroke="#0000ff" stroke-width="1" stroke-linejoin="round"/>
<path d="M475.50 1076.00L480.80 1088.00L470.20 1088.00Z" fill="#0000ff" stroke="#0000ff" stroke-width="1" stroke-linejoin="round"/>
<path d="M455.00 1076.00L460.30 1088.00L449.70 1088.00Z" fill="#0000ff" stroke="#0000ff" stroke-width="1" stroke-linejoin="round"/>
<path d="M467.00 1076.00L472.30 1088.00L461.70 1088.00Z" fill="#0000ff" stroke="#0000ff" stroke-width="1" stroke-linejoin="round"/>
<g stroke="#111111" stroke-width="1.6" fill="none">
<rect x="484.2" y="1035.5" width="35.40" height="28.50"/>
<path d="M482.40 1049.8H521.40M502 1025V1033.70M502 1065.80V1071M492.00 1025H512.00M492.00 1071H512.00"/>
</g>
<rect x="501.45" y="1018.40" width="11.3" height="12.4" fill="#000000"/>
<rect x="492.05" y="1021.70" width="11.3" height="12.4" fill="#000000"/>
<rect x="483.35" y="1043.80" width="11.3" height="12.4" fill="#000000"/>
<rect x="492.05" y="1043.80" width="11.3" height="12.4" fill="#000000"/>
<rect x="501.35" y="1049.80" width="11.3" height="12.4" fill="#000000"/>
<rect x="511.35" y="1043.80" width="11.3" height="12.4" fill="#000000"/>
<rect x="492.05" y="1065.50" width="11.3" height="12.4" fill="#000000"/>
<rect x="501.35" y="1061.80" width="11.3" height="12.4" fill="#000000"/>
<g stroke="#d41c1c" stroke-width="1.6" fill="none">
<rect x="549.5" y="910.7" width="35.60" height="68.40"/>
<path d="M547.70 918.1H586.90M567.5 906.5V908.90M567.5 980.90V1002.4M557.50 906.5H577.50M557.50 1002.4H577.50"/>
</g>
<ellipse cx="583" cy="906.5" rx="5.5" ry="6.45" fill="#ff0000" stroke="#e00000" stroke-width="0.6"/>
<ellipse cx="553.8" cy="916.4" rx="5.5" ry="6.45" fill="#ff0000" stroke="#e00000" stroke-width="0.6"/>
<ellipse cx="583" cy="920.2" rx="5.5" ry="6.45" fill="#ff0000" stroke="#e00000" stroke-width="0.6"/>
<ellipse cx="568.2" cy="1002.4" rx="5.5" ry="6.45" fill="#ff0000" stroke="#e00000" stroke-width="0.6"/>
<g stroke="#1010ee" stroke-width="1.6" fill="none">
<rect x="587.5" y="1079.2" width="35.00" height="4.00"/>
<path d="M585.70 1081H624.30M595.00 1078.4H615.00M595.00 1082.5H615.00"/>
</g>
<path d="M591.00 1076.50L596.30 1088.50L585.70 1088.50Z" fill="#0000ff" stroke="#0000ff" stroke-width="1" stroke-linejoin="round"/>
<path d="M600.40 1072.40L605.70 1084.40L595.10 1084.40Z" fill="#0000ff" stroke="#0000ff" stroke-width="1" stroke-linejoin="round"/>
<path d="M609.90 1076.10L615.20 1088.10L604.60 1088.10Z" fill="#0000ff" stroke="#0000ff" stroke-width="1" stroke-linejoin="round"/>
<path d="M619.70 1073.40L625.00 1085.40L614.40 1085.40Z" fill="#0000ff" stroke="#0000ff" stroke-width="1" stroke-linejoin="round"/>
<g stroke="#111111" stroke-width="1.6" fill="none">
<rect x="641.6" y="1047.6" width="17.00" height="17.10"/>
<path d="M639.80 1056H660.40M650.00 1047.6H650.00M650.00 1064.7H650.00"/>
</g>
<rect x="629.95" y="1041.20" width="11.3" height="12.4" fill="#000000"/>
<rect x="629.95" y="1059.10" width="11.3" height="12.4" fill="#000000"/>
<rect x="644.55" y="1048.10" width="11.3" height="12.4" fill="#000000"/>
<rect x="644.55" y="1050.00" width="11.3" height="12.4" fill="#000000"/>
<rect x="658.35" y="1052.00" width="11.3" height="12.4" fill="#000000"/>
</svg></body></html>
